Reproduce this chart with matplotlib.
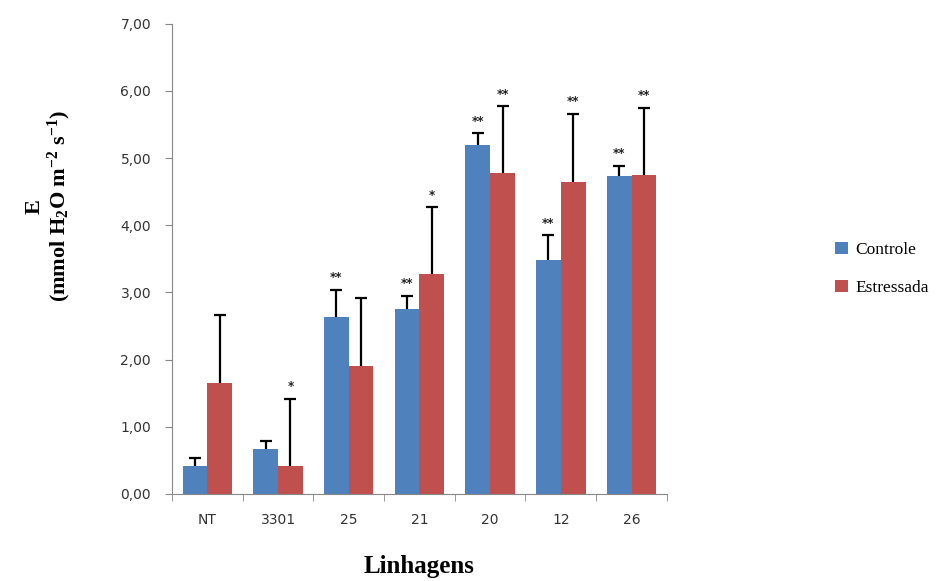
import numpy as np
import matplotlib.pyplot as plt
from matplotlib.ticker import FuncFormatter

lines = ['NT', '3301', '25', '21', '20', '12', '26']
controle = [0.42, 0.67, 2.63, 2.75, 5.20, 3.49, 4.73]
controle_err = [0.12, 0.11, 0.41, 0.20, 0.17, 0.36, 0.16]
estressada = [1.65, 0.42, 1.90, 3.27, 4.78, 4.65, 4.75]
estressada_err = [1.02, 1.00, 1.02, 1.00, 0.99, 1.01, 1.00]
sig_controle = ['', '', '**', '**', '**', '**', '**']
sig_estressada = ['', '*', '', '*', '**', '**', '**']

blue = '#4F81BD'
red = '#C0504D'

plt.rcParams['mathtext.fontset'] = 'custom'
plt.rcParams['mathtext.rm'] = 'Liberation Serif:bold'
plt.rcParams['mathtext.it'] = 'Liberation Serif:bold'
plt.rcParams['mathtext.bf'] = 'Liberation Serif:bold'

fig = plt.figure(figsize=(9.5, 5.81), dpi=100)
ax = fig.add_axes([0.181, 0.150, 0.521, 0.809])

x = np.arange(len(lines))
w = 0.35
b1 = ax.bar(x - w / 2, controle, w, color=blue, label='Controle', zorder=2)
b2 = ax.bar(x + w / 2, estressada, w, color=red, label='Estressada', zorder=2)

# only the upper half of each error bar, as in the original
for xs, vals, errs in [(x - w / 2, controle, controle_err),
                       (x + w / 2, estressada, estressada_err)]:
    eb = ax.errorbar(xs, vals, yerr=[np.zeros(len(xs)), errs], fmt='none',
                     ecolor='black', elinewidth=1.6, capsize=4, capthick=1.6, zorder=3)
    eb[1][0].set_visible(False)

for i in range(len(x)):
    if sig_controle[i]:
        ax.annotate(sig_controle[i], (x[i] - w / 2, controle[i] + controle_err[i]),
                    xytext=(0, 4), textcoords='offset points', ha='center',
                    va='bottom', fontsize=8.5, fontweight='bold', color='#222222')
    if sig_estressada[i]:
        ax.annotate(sig_estressada[i], (x[i] + w / 2, estressada[i] + estressada_err[i]),
                    xytext=(0, 4), textcoords='offset points', ha='center',
                    va='bottom', fontsize=8.5, fontweight='bold', color='#222222')

ax.set_xlim(-0.5, len(x) - 0.5)
ax.set_ylim(0, 7)
ax.set_yticks(np.arange(0, 8, 1))
ax.yaxis.set_major_formatter(FuncFormatter(lambda v, p: ('%.2f' % v).replace('.', ',')))
ax.set_xticks(x)
ax.set_xticklabels(lines)
ax.set_xticks(np.arange(-0.5, len(x), 1), minor=True)
ax.tick_params(axis='x', which='major', length=0, pad=14, labelsize=10, colors='#333333')
ax.tick_params(axis='x', which='minor', length=5, color='#888888')
ax.tick_params(axis='y', length=5, color='#888888', labelsize=10, labelcolor='#333333', pad=10)

for s in ['top', 'right']:
    ax.spines[s].set_visible(False)
for s in ['left', 'bottom']:
    ax.spines[s].set_color('#888888')

fig.text(0.051, 0.645, 'E\n(mmol H$_2$O m$^{-2}$ s$^{-1}$)', rotation=90, ha='center',
         va='center', fontsize=16, fontweight='bold', family='Liberation Serif',
         multialignment='center', linespacing=1.05)
ax.set_xlabel('Linhagens', fontsize=18, fontweight='bold', family='Liberation Serif',
              labelpad=20)

leg = fig.legend(handles=[b1, b2], loc='center left', bbox_to_anchor=(0.863, 0.537),
                 frameon=False, prop={'family': 'Liberation Serif', 'size': 12.5},
                 handlelength=0.7, handleheight=0.7, handletextpad=0.45, labelspacing=1.3)

fig.savefig('out.png', dpi=100)
